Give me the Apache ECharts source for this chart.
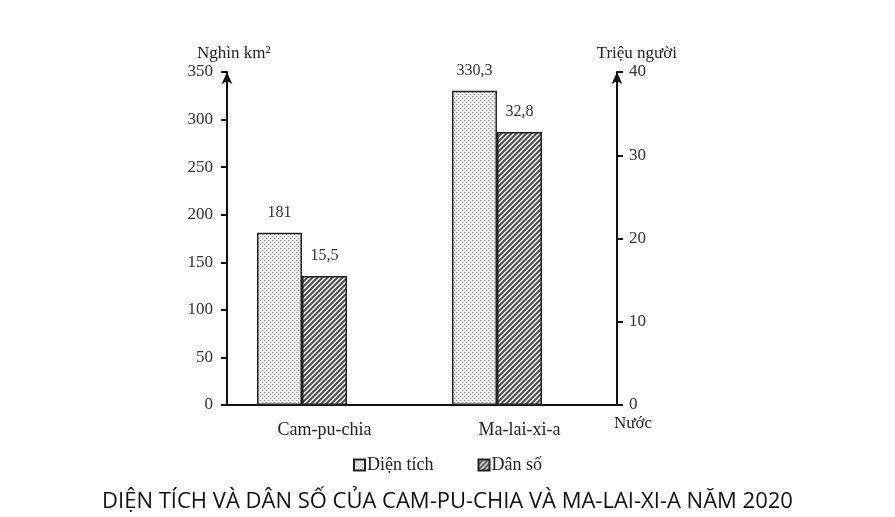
<!DOCTYPE html>
<html>
<head>
<meta charset="utf-8">
<script src="https://cdn.jsdelivr.net/npm/echarts@6/dist/echarts.min.js"></script>
<style>
  html, body { margin: 0; padding: 0; background: #fff; }
  #chart { width: 895px; height: 517px; }
</style>
</head>
<body>
<div id="chart"></div>
<script>
var countries = ['Cam-pu-chia', 'Ma-lai-xi-a'];
var areaValues = [181, 330.3];      // nghìn km2
var popValues = [15.5, 32.8];       // triệu người
var leftTicks = [0, 350, 50];       // min, max, interval
var rightTicks = [0, 40, 10];

// hoa van cho cot
function dotPattern() {
	var c = document.createElement('canvas');
	c.width = 4; c.height = 4;
	var ctx = c.getContext('2d');
	ctx.fillStyle = '#efefef';
	ctx.fillRect(0, 0, 4, 4);
	ctx.fillStyle = '#999';
	ctx.fillRect(0, 0, 1, 1);
	ctx.fillRect(2, 2, 1, 1);
	ctx.fillStyle = '#c8c8c8';
	ctx.fillRect(1, 0, 1, 1);
	ctx.fillRect(3, 2, 1, 1);
	return c;
}
function hatchPattern() {
	var c = document.createElement('canvas');
	c.width = 5; c.height = 5;
	var ctx = c.getContext('2d');
	ctx.fillStyle = '#e8e8e8';
	ctx.fillRect(0, 0, 5, 5);
	ctx.strokeStyle = '#444';
	ctx.lineWidth = 1.9;
	ctx.beginPath();
	ctx.moveTo(-1, 6); ctx.lineTo(6, -1);
	ctx.moveTo(-3, 3); ctx.lineTo(3, -3);
	ctx.moveTo(2, 8); ctx.lineTo(8, 2);
	ctx.stroke();
	return c;
}

var serif = '"Liberation Serif", "DejaVu Serif", serif';
function commaFmt(p) { return String(p.value).replace('.', ','); }

var chart = echarts.init(document.getElementById('chart'));
var option = {
	animation: false,
	grid: { left: 227, right: 278, top: 72, bottom: 112 },
	title: {
		text: 'DIỆN TÍCH VÀ DÂN SỐ CỦA CAM-PU-CHIA VÀ MA-LAI-XI-A NĂM 2020',
		left: 'center',
		top: 486,
		textStyle: { fontFamily: '"Open Sans", "Noto Sans", sans-serif', fontSize: 22, fontWeight: 'normal', color: '#111' }
	},
	legend: {
		data: ['Diện tích', 'Dân số'],
		top: 451,
		left: 'center',
		icon: 'rect',
		itemWidth: 11,
		itemHeight: 11,
		itemGap: 44,
		textStyle: { fontFamily: serif, fontSize: 18, color: '#222', padding: [0, 0, 0, -3] }
	},
	graphic: [
		{ type: 'text', left: 614, top: 415, style: { text: 'Nước', font: '17px ' + serif, fill: '#222' } }
	],
	xAxis: {
		type: 'category',
		data: countries,
		axisLine: { lineStyle: { color: '#111', width: 2 } },
		axisTick: { show: false },
		axisLabel: { fontFamily: serif, fontSize: 18, color: '#222', margin: 16 }
	},
	yAxis: [
		{
			type: 'value',
			min: leftTicks[0], max: leftTicks[1], interval: leftTicks[2],
			name: 'Nghìn km²',
			nameGap: 10,
			nameTextStyle: { fontFamily: serif, fontSize: 17, color: '#222', align: 'left', padding: [0, 0, 0, -30] },
			axisLine: { show: true, symbol: ['none', 'arrow'], symbolSize: [8, 12], lineStyle: { color: '#111', width: 2 } },
			axisTick: { show: true, length: 6, lineStyle: { color: '#111', width: 2 } },
			axisLabel: { fontFamily: serif, fontSize: 17, color: '#333', margin: 14 },
			splitLine: { show: false }
		},
		{
			type: 'value',
			min: rightTicks[0], max: rightTicks[1], interval: rightTicks[2],
			name: 'Triệu người',
			nameGap: 10,
			nameTextStyle: { fontFamily: serif, fontSize: 17, color: '#222', align: 'right', padding: [0, -60, 0, 0] },
			axisLine: { show: true, symbol: ['none', 'arrow'], symbolSize: [8, 12], lineStyle: { color: '#111', width: 2 } },
			axisTick: { show: true, length: 6, lineStyle: { color: '#111', width: 2 } },
			axisLabel: { fontFamily: serif, fontSize: 17, color: '#333', margin: 12 },
			splitLine: { show: false }
		}
	],
	series: [
		{
			name: 'Diện tích',
			type: 'bar',
			yAxisIndex: 0,
			barWidth: 45,
			barGap: 0,
			data: areaValues,
			itemStyle: { color: { image: dotPattern(), repeat: 'repeat' }, borderColor: '#222', borderWidth: 1.5 },
			label: { show: true, position: 'top', distance: 12, formatter: commaFmt, fontFamily: serif, fontSize: 16, color: '#333' }
		},
		{
			name: 'Dân số',
			type: 'bar',
			yAxisIndex: 1,
			barWidth: 45,
			barGap: 0,
			data: popValues,
			itemStyle: { color: { image: hatchPattern(), repeat: 'repeat' }, borderColor: '#222', borderWidth: 1.5 },
			label: { show: true, position: 'top', distance: 12, formatter: commaFmt, fontFamily: serif, fontSize: 16, color: '#333' }
		},
		{
			// cot rong de day nhom cot sang trai nhu hinh goc
			name: 'pad',
			type: 'bar',
			yAxisIndex: 0,
			barWidth: 45,
			barGap: 0,
			data: ['-', '-']
		}
	]
};
chart.setOption(option);
</script>
</body>
</html>
